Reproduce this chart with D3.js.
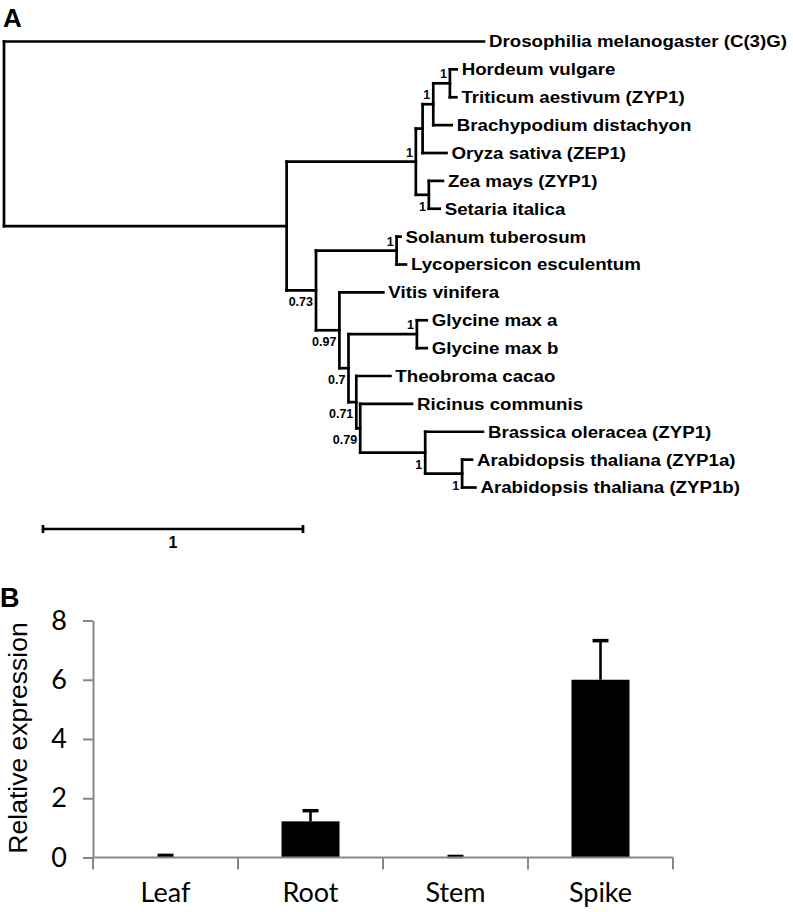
<!DOCTYPE html>
<html>
<head>
<meta charset="utf-8">
<script src="https://cdn.jsdelivr.net/npm/d3@7"></script>
<style>
  html, body { margin: 0; padding: 0; background: #fff; }
  svg { display: block; }
</style>
</head>
<body>
<svg id="chart" width="793" height="912"></svg>
<script>
// ---------------- Panel A: phylogenetic tree data ----------------
const nodeIds = [
  "root", "Drosophilia melanogaster (C(3)G)", "plants",
  "monocots", "HTBO", "HTB", "HT",
  "Hordeum vulgare", "Triticum aestivum (ZYP1)", "Brachypodium distachyon",
  "Oryza sativa (ZEP1)", "ZS", "Zea mays (ZYP1)", "Setaria italica",
  "dicots", "SL", "Solanum tuberosum", "Lycopersicon esculentum",
  "N97", "Vitis vinifera", "N70", "GM", "Glycine max a", "Glycine max b",
  "N71", "Theobroma cacao", "N79", "Ricinus communis", "BA",
  "Brassica oleracea (ZYP1)", "AT", "Arabidopsis thaliana (ZYP1a)", "Arabidopsis thaliana (ZYP1b)"
];
const nodeParents = [
  "", "root", "root",
  "plants", "monocots", "HTBO", "HTB",
  "HT", "HT", "HTB",
  "HTBO", "monocots", "ZS", "ZS",
  "plants", "dicots", "SL", "SL",
  "dicots", "N97", "N97", "N70", "GM", "GM",
  "N70", "N71", "N71", "N79", "N79",
  "BA", "BA", "AT", "AT"
];
const branchLengths = [
  0, 1.846, 1.087,
  0.497, 0.026, 0.041, 0.064,
  0.026, 0.025, 0.071,
  0.092, 0.050, 0.054, 0.042,
  0.113, 0.310, 0.015, 0.036,
  0.090, 0.169, 0.035, 0.263, 0.038, 0.038,
  0.030, 0.131, 0.015, 0.199, 0.250,
  0.222, 0.142, 0.038, 0.051
];
const supportValues = [
  "", "", "",
  "1", "", "1", "1",
  "", "", "",
  "", "1", "", "",
  "0.73", "1", "", "",
  "0.97", "", "0.7", "1", "", "",
  "0.71", "", "0.79", "", "1",
  "", "1", "", ""
];
const labelsAbove = ["monocots", "HTB", "HT", "SL", "GM"];
const scaleBarValue = 1;

// ---------------- Panel B: expression data ----------------
const tissues = ["Leaf", "Root", "Stem", "Spike"];
const expression = [0.01, 1.22, 0.005, 6.0];
const expressionErr = [0.06, 0.36, 0.03, 1.32];
const yTicks = [0, 2, 4, 6, 8];

// ---------------- Drawing ----------------
const svg = d3.select("#chart");
const treeFont = "'Liberation Sans', Arial, Helvetica, sans-serif";

// Panel label A
svg.append("text").attr("x", 3).attr("y", 27)
  .attr("font-family", treeFont).attr("font-weight", "bold").attr("font-size", 26)
  .text("A");

const table = nodeIds.map((id, i) => ({
  id, parent: nodeParents[i] || null, length: branchLengths[i], support: supportValues[i]
}));
const root = d3.stratify().id(d => d.id).parentId(d => d.parent)(table);
root.eachBefore(n => { n.dist = (n.parent ? n.parent.dist : 0) + n.data.length; });

const xTree = d3.scaleLinear().domain([0, 1]).range([4, 264]);
const leaves = root.leaves();
const yLeaf = d3.scalePoint().domain(leaves.map(d => d.id)).range([41.5, 487.5]);
root.eachAfter(n => {
  if (!n.children) n.yPos = yLeaf(n.id);
  else n.yPos = (n.children[0].yPos + n.children[n.children.length - 1].yPos) / 2;
});

const gTree = svg.append("g")
  .attr("stroke", "#000").attr("stroke-width", 2.7).attr("fill", "none")
  .attr("stroke-linecap", "square");

// horizontal branches
root.descendants().filter(n => n.parent).forEach(n => {
  gTree.append("line")
    .attr("x1", xTree(n.parent.dist)).attr("x2", xTree(n.dist))
    .attr("y1", n.yPos).attr("y2", n.yPos);
});
// vertical connectors
root.descendants().filter(n => n.children).forEach(n => {
  gTree.append("line")
    .attr("x1", xTree(n.dist)).attr("x2", xTree(n.dist))
    .attr("y1", n.children[0].yPos).attr("y2", n.children[n.children.length - 1].yPos);
});

// leaf labels
const gLeafText = svg.append("g")
  .attr("font-family", treeFont).attr("font-weight", "bold").attr("font-size", 17);
leaves.forEach(n => {
  gLeafText.append("text")
    .attr("transform", `translate(${xTree(n.dist) + 5},${n.yPos}) scale(1.1,1)`)
    .attr("dy", "0.35em")
    .text(n.id);
});

// support values
const gSupport = svg.append("g")
  .attr("font-family", treeFont).attr("font-weight", "bold").attr("font-size", 12.5)
  .attr("text-anchor", "end");
root.descendants().filter(n => n.children && n.data.support).forEach(n => {
  const above = labelsAbove.includes(n.id);
  gSupport.append("text")
    .attr("x", xTree(n.dist) - 3)
    .attr("y", above ? n.yPos - 5 : n.yPos + 16)
    .text(n.data.support);
});

// scale bar
const sbX0 = 43, sbY = 529;
const sbLen = xTree(scaleBarValue) - xTree(0);
const gSb = svg.append("g").attr("stroke", "#000").attr("stroke-width", 2.7);
gSb.append("line").attr("x1", sbX0).attr("x2", sbX0 + sbLen).attr("y1", sbY).attr("y2", sbY);
gSb.append("line").attr("x1", sbX0).attr("x2", sbX0).attr("y1", sbY - 4).attr("y2", sbY + 4);
gSb.append("line").attr("x1", sbX0 + sbLen).attr("x2", sbX0 + sbLen).attr("y1", sbY - 4).attr("y2", sbY + 4);
svg.append("text").attr("x", sbX0 + sbLen / 2).attr("y", 548)
  .attr("text-anchor", "middle").attr("font-family", treeFont).attr("font-weight", "bold")
  .attr("font-size", 16).text(String(scaleBarValue));

// ---------------- Panel B ----------------
svg.append("text").attr("x", 0).attr("y", 607)
  .attr("font-family", treeFont).attr("font-weight", "bold").attr("font-size", 27)
  .text("B");

const chartFont = "Lato, 'Open Sans', sans-serif";
const axisColor = "#878787";
const y = d3.scaleLinear().domain([0, 8]).range([857.5, 620.5]);
const x = d3.scaleBand().domain(tissues).range([93, 673]);
const bw = x.bandwidth();
const barW = bw * 0.4;

// y axis
const yAxis = svg.append("g").attr("transform", "translate(93,0)")
  .call(d3.axisLeft(y).tickValues(yTicks).tickSize(10).tickSizeOuter(0).tickPadding(16).tickFormat(d3.format("d")));
yAxis.select(".domain").attr("stroke", axisColor).attr("stroke-width", 2);
yAxis.selectAll(".tick line").attr("stroke", axisColor).attr("stroke-width", 2);
yAxis.selectAll(".tick text").attr("font-family", chartFont).attr("font-size", 27).attr("fill", "#000");

// y label
svg.append("text")
  .attr("transform", `translate(27,738) rotate(-90)`)
  .attr("text-anchor", "middle")
  .attr("font-family", "'Liberation Sans', Arial, sans-serif").attr("font-size", 26.5)
  .text("Relative expression");

// bars
svg.append("g").selectAll("rect").data(tissues).join("rect")
  .attr("x", d => x(d) + bw / 2 - barW / 2)
  .attr("width", barW)
  .attr("y", (d, i) => y(expression[i]))
  .attr("height", (d, i) => y(0) - y(expression[i]))
  .attr("fill", "#000");

// error bars (upper half)
const gErr = svg.append("g").attr("stroke", "#000");
tissues.forEach((t, i) => {
  const cx = x(t) + bw / 2;
  const top = y(expression[i] + expressionErr[i]);
  gErr.append("line").attr("x1", cx).attr("x2", cx)
    .attr("y1", y(expression[i])).attr("y2", top).attr("stroke-width", 2.6);
  gErr.append("line").attr("x1", cx - 8).attr("x2", cx + 8)
    .attr("y1", top).attr("y2", top).attr("stroke-width", 3.5);
});

// x axis
const gX = svg.append("g");
gX.append("line").attr("x1", 93).attr("x2", 673).attr("y1", y(0)).attr("y2", y(0))
  .attr("stroke", axisColor).attr("stroke-width", 2);
const boundaries = tissues.map(t => x(t)).concat([x.range()[1]]);
boundaries.forEach(bx => {
  gX.append("line").attr("x1", bx).attr("x2", bx).attr("y1", y(0)).attr("y2", y(0) + 12)
    .attr("stroke", axisColor).attr("stroke-width", 2);
});
tissues.forEach(t => {
  gX.append("text").attr("x", x(t) + bw / 2).attr("y", 902)
    .attr("text-anchor", "middle").attr("font-family", chartFont).attr("font-size", 27)
    .text(t);
});
</script>
</body>
</html>
